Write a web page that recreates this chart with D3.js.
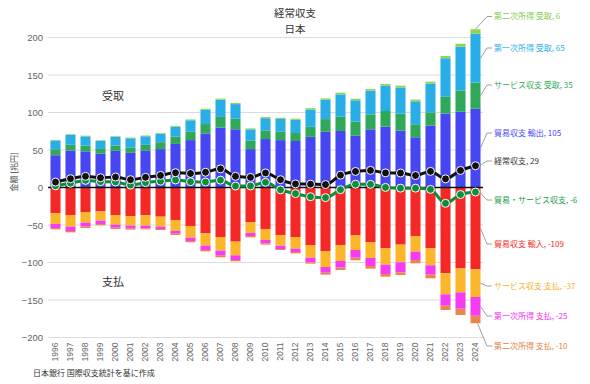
<!DOCTYPE html>
<html><head><meta charset="utf-8">
<script src="https://cdn.jsdelivr.net/npm/d3@7"></script>
<style>
html,body{margin:0;padding:0;background:#fff;}
svg{display:block;font-family:"Noto Sans CJK JP","Noto Sans",sans-serif;}
</style></head>
<body><svg id="chart" width="590" height="384"></svg>
<script>
// ---------- data (trillion yen) ----------
const years = ["1996","1997","1998","1999","2000","2001","2002","2003","2004","2005","2006","2007","2008","2009","2010","2011","2012","2013","2014","2015","2016","2017","2018","2019","2020","2021","2022","2023","2024"];
const exportsVals   = [43.0,49.3,48.2,45.2,48.9,46.2,48.9,51.2,58.1,63.2,72.1,79.9,77.6,51.2,64.6,63.2,62.0,67.5,74.3,75.3,69.1,77.5,81.1,75.8,67.0,82.4,98.6,101.0,105];
const servicesRec   = [8.0,7.6,7.6,6.2,7.1,7.1,8.0,9.2,9.8,11.1,12.5,14.2,14.2,11.1,11.5,11.1,10.7,13.4,16.9,19.1,18.7,20.0,20.9,22.6,17.3,17.8,22.3,28.5,35];
const primaryRec    = [11.6,13.3,12.4,10.8,11.5,12.3,11.4,11.0,13.1,15.3,19.1,23.0,19.4,15.2,16.3,17.1,17.5,23.1,25.6,29.8,28.5,31.5,33.6,34.9,30.6,38.3,51.4,58.3,65];
const secondaryRec  = [0.8,0.9,0.9,0.8,0.9,1.0,1.0,1.0,1.1,1.2,1.3,1.4,1.5,1.3,1.5,1.6,1.6,1.8,2.0,2.2,2.1,2.2,2.4,2.5,2.3,2.6,3.0,3.8,6];
const importsVals   = [-34.4,-36.7,-32.7,-31.8,-36.7,-38.0,-37.1,-38.9,-43.3,-51.3,-61.1,-66.0,-72.2,-46.0,-55.3,-63.3,-66.0,-76.7,-84.7,-76.7,-63.8,-72.7,-80.7,-76.2,-64.7,-81.1,-114.4,-107.8,-109];
const servicesPay   = [-14.3,-15.5,-14.2,-12.4,-12.9,-12.9,-13.8,-13.3,-14.7,-15.6,-16.5,-18.2,-18.2,-14.7,-14.7,-14.3,-15.6,-16.9,-21.3,-21.3,-19.5,-21.3,-22.2,-23.6,-20.9,-22.7,-28.0,-32.0,-37];
const primaryPay    = [-5.3,-5.8,-5.3,-4.5,-4.0,-4.0,-3.5,-3.1,-3.6,-4.4,-5.7,-6.7,-6.3,-4.0,-4.4,-4.4,-4.4,-6.2,-7.6,-8.9,-10.3,-10.7,-12.4,-13.3,-11.1,-12.4,-15.2,-21.8,-25];
const secondaryPay  = [-1.8,-1.8,-1.8,-1.7,-1.7,-1.3,-1.4,-1.4,-1.7,-1.7,-1.8,-2.2,-1.7,-1.7,-1.8,-1.3,-1.8,-1.8,-2.6,-3.1,-3.5,-3.5,-3.6,-3.6,-4.4,-4.9,-5.7,-8.4,-10];
const currentAccount = [7.2,11.7,14.9,13.0,14.0,10.4,13.6,16.1,19.7,18.7,20.3,24.9,14.9,13.5,19.4,10.4,4.8,4.5,3.9,16.5,21.4,22.8,19.5,19.3,16.0,21.5,11.5,22.7,29];
const goodsServices  = [2.3,5.7,9.5,7.8,7.4,3.2,6.5,8.4,10.1,7.7,7.3,9.8,1.9,2.1,6.9,-3.1,-8.1,-12.3,-13.5,-2.9,4.4,4.2,0.1,-0.9,-0.9,-2.5,-21.1,-9.4,-6];
const yTicks = [200,150,100,50,0,-50,-100,-150,-200];

const seriesKeys  = ["exp","svcR","priR","secR","imp","svcP","priP","secP"];
const seriesNames = ["貿易収支 輸出","サービス収支 受取","第一次所得 受取","第二次所得 受取","貿易収支 輸入","サービス収支 支払","第一次所得 支払","第二次所得 支払"];
const seriesData  = [exportsVals,servicesRec,primaryRec,secondaryRec,importsVals,servicesPay,primaryPay,secondaryPay];

// ---------- styles ----------
const fillColors = {exp:"#4646f2",svcR:"#2fa85a",priR:"#29aee8",secR:"#8fd456",imp:"#f52828",svcP:"#fbb62b",priP:"#f53cf2",secP:"#eb8550"};
const textColors = {exp:"#4646f2",svcR:"#2fa85a",priR:"#29aee8",secR:"#86c94c",imp:"#f02828",svcP:"#f2b22a",priP:"#ee30ec",secP:"#e6803f"};

const svg = d3.select("#chart");
const x = d3.scaleBand().domain(years).range([48,483]).paddingInner(0.33).paddingOuter(0.165);
const y = d3.scaleLinear().domain([-200,200]).range([337.5,37.5]);

const table = years.map((yr,i)=>{const o={year:yr}; seriesKeys.forEach((k,j)=>o[k]=seriesData[j][i]); return o;});
const stacked = d3.stack().keys(seriesKeys).offset(d3.stackOffsetDiverging)(table);

// gridlines
svg.append("g").selectAll("line").data(yTicks.filter(t=>t!==0)).join("line")
  .attr("x1",48).attr("x2",483).attr("y1",d=>y(d)).attr("y2",d=>y(d))
  .attr("stroke","#dcdcdc").attr("stroke-width",1);

// y tick labels
const yAxis = d3.axisLeft(y).tickValues(yTicks).tickSize(0).tickPadding(0);
const yg = svg.append("g").attr("transform","translate(43,0)").call(yAxis);
yg.select(".domain").remove();
yg.selectAll("text").attr("fill","#666").style("font-size","9.5px").style("font-family","'Liberation Sans',Arial,sans-serif");

// bars
svg.append("g").selectAll("g").data(stacked).join("g")
  .attr("fill",d=>fillColors[d.key])
  .selectAll("rect").data(d=>d).join("rect")
  .attr("x",d=>x(d.data.year)).attr("width",x.bandwidth())
  .attr("y",d=>y(Math.max(d[0],d[1]))).attr("height",d=>Math.abs(y(d[0])-y(d[1])));

// zero line
svg.append("line").attr("x1",48).attr("x2",483).attr("y1",y(0)).attr("y2",y(0))
  .attr("stroke","#111").attr("stroke-width",1.3);

// x labels
const xAxis = d3.axisBottom(x).tickSize(0).tickPadding(0);
const xg = svg.append("g").attr("transform",`translate(0,${y(-200)+5})`).call(xAxis);
xg.select(".domain").remove();
xg.selectAll("text").attr("transform","rotate(-90)").attr("text-anchor","end")
  .attr("x",0).attr("y",0).attr("dy","0.35em").attr("fill","#666")
  .style("font-size","8.5px").style("font-family","'Liberation Sans',Arial,sans-serif");

// lines
function drawLine(vals,color){
  const line = d3.line().x((d,i)=>x(years[i])+x.bandwidth()/2).y(d=>y(d)).curve(d3.curveMonotoneX);
  svg.append("path").datum(vals).attr("d",line).attr("fill","none").attr("stroke",color).attr("stroke-width",3);
  svg.append("g").selectAll("circle").data(vals).join("circle")
    .attr("cx",(d,i)=>x(years[i])+x.bandwidth()/2).attr("cy",d=>y(d)).attr("r",4)
    .attr("fill",color).attr("stroke","#fff").attr("stroke-width",1);
}
drawLine(goodsServices,"#0f8c3a");
drawLine(currentAccount,"#111");

// right-side labels
const last = years.length-1;
const lastX = x(years[last]);
const bw = x.bandwidth();
const labels = [];
stacked.forEach(s=>{
  const d = s[last];
  const idx = seriesKeys.indexOf(s.key);
  labels.push({key:s.key, text:`${seriesNames[idx]}, ${Math.round(seriesData[idx][last])}`, anchorY:y((d[0]+d[1])/2), anchorX:lastX+bw, color:textColors[s.key]});
});
labels.push({key:"ca",text:`経常収支, ${Math.round(currentAccount[last])}`,anchorY:y(currentAccount[last]),anchorX:lastX+bw/2+4,color:"#333"});
labels.push({key:"gs",text:`貿易・サービス収支, ${Math.round(goodsServices[last])}`,anchorY:y(goodsServices[last]),anchorX:lastX+bw/2+4,color:"#1a9a48"});
const labelPosY = {secR:16.5,priR:48,svcR:85,exp:133,ca:161,gs:200,imp:244,svcP:286,priP:316,secP:346};
labels.forEach(l=>{
  const ly = labelPosY[l.key];
  let ax = l.anchorX, ay = l.anchorY;
  if(l.key==="secR"){ax = lastX+bw/2; ay = y(exportsVals[last]+servicesRec[last]+primaryRec[last]+secondaryRec[last]);}
  if(l.key==="secP"){ax = lastX+bw/2+2; ay = y(importsVals[last]+servicesPay[last]+primaryPay[last]+secondaryPay[last]);}
  svg.append("path").attr("d",`M${ax},${ay}L487,${ly}L492,${ly}`)
    .attr("fill","none").attr("stroke","#888").attr("stroke-width",0.8);
  svg.append("text").attr("x",494).attr("y",ly).attr("dy","0.35em")
    .attr("fill",l.color).style("font-size","8px").text(l.text);
});

// titles & annotations
svg.append("text").attr("x",295).attr("y",17).attr("text-anchor","middle").attr("fill","#333").style("font-size","10.5px").text("経常収支");
svg.append("text").attr("x",295).attr("y",33).attr("text-anchor","middle").attr("fill","#333").style("font-size","10.5px").text("日本");
svg.append("text").attr("x",113).attr("y",100).attr("text-anchor","middle").attr("fill","#333").style("font-size","11px").text("受取");
svg.append("text").attr("x",113).attr("y",286).attr("text-anchor","middle").attr("fill","#333").style("font-size","11px").text("支払");
svg.append("text").attr("transform","translate(17,172) rotate(-90)").attr("text-anchor","middle").attr("fill","#444").style("font-size","8px").text("金額 [兆円]");
svg.append("text").attr("x",33).attr("y",376).attr("fill","#333").style("font-size","8px").text("日本銀行 国際収支統計を基に作成");
</script></body></html>
